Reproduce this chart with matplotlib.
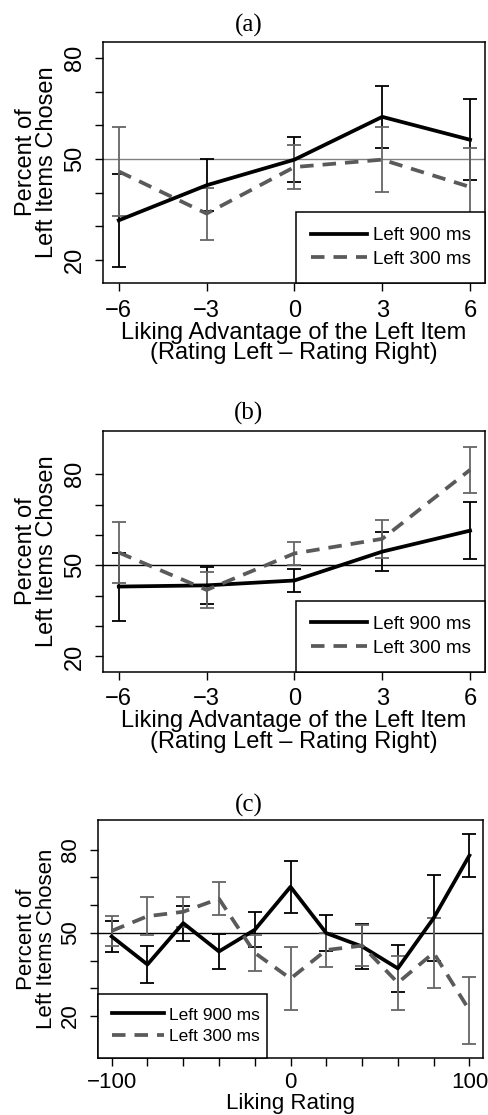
import matplotlib
matplotlib.use('Agg')
import matplotlib.pyplot as plt

plt.rcParams['font.family'] = ['Liberation Sans', 'DejaVu Sans']

# panel (a): liking advantage, left item shown 900 / 300 ms
adv = [-6, -3, 0, 3, 6]
a_900 = [31.8, 42.2, 49.8, 62.5, 55.7]
a_900_err = [13.8, 7.7, 6.7, 9.1, 12.0]
a_300 = [46.3, 33.8, 47.6, 49.8, 41.7]
a_300_err = [13.3, 7.7, 6.5, 9.7, 11.7]

# panel (b)
b_900 = [43.0, 43.4, 45.0, 54.5, 61.4]
b_900_err = [11.2, 6.0, 3.7, 6.4, 9.3]
b_300 = [54.2, 41.9, 53.9, 58.7, 81.4]
b_300_err = [9.9, 6.0, 3.8, 6.3, 7.6]

# panel (c): liking rating
rating = [-100, -80, -60, -40, -20, 0, 20, 40, 60, 80, 100]
c_900 = [48.7, 38.6, 53.5, 43.3, 51.1, 66.6, 49.9, 45.1, 37.2, 55.3, 77.9]
c_900_err = [5.7, 6.5, 6.3, 6.3, 6.3, 9.3, 6.6, 8.1, 8.6, 15.6, 7.6]
c_300 = [50.7, 56.0, 57.6, 62.3, 42.8, 33.5, 43.8, 45.4, 32.0, 42.8, 22.1]
c_300_err = [5.5, 6.8, 5.5, 6.0, 6.4, 11.3, 6.2, 7.5, 9.7, 12.7, 12.1]

y_ticks = [20, 30, 40, 50, 60, 70, 80]
y_labels = ['20', '', '', '50', '', '', '80']

GRAY = '#5a5a5a'
GRAY_ERR = '#666666'


def panel(ax, x, y9, e9, y3, e3, ylim, xlim, hcol, leg_box, xlabel, xticks, xticklabels,
		ylab_x, fs=17, leg_fs=13.5, xpad=6):
	ax.axhline(50, color=hcol, linewidth=1.0, zorder=1)
	ax.errorbar(x, y9, yerr=e9, fmt='none', ecolor='black', elinewidth=1.3, capsize=4.7, capthick=1.3, zorder=2)
	ax.errorbar(x, y3, yerr=e3, fmt='none', ecolor=GRAY_ERR, elinewidth=1.3, capsize=4.7, capthick=1.3, zorder=2)
	ax.plot(x, y9, color='black', linewidth=2.7, label='Left 900 ms', zorder=3, solid_joinstyle='round')
	ax.plot(x, y3, color=GRAY, linewidth=2.7, linestyle=(0, (3.6, 2.4)), label='Left 300 ms', zorder=3)
	ax.set_ylim(ylim)
	ax.set_xlim(xlim)
	ax.set_yticks(y_ticks)
	ax.set_yticklabels(y_labels, rotation=90, va='center', fontsize=fs)
	ax.set_xticks(xticks)
	ax.set_xticklabels(xticklabels, fontsize=fs)
	ax.tick_params(direction='out', length=6, width=1, pad=6)
	ax.tick_params(axis='x', pad=xpad)
	for s in ax.spines.values():
		s.set_linewidth(1.1)
	ax.set_ylabel('Percent of\nLeft Items Chosen', fontsize=fs, linespacing=0.95)
	ax.yaxis.set_label_coords(ylab_x, 0.5)
	ax.set_xlabel(xlabel, fontsize=fs, linespacing=0.9, labelpad=0)
	leg = ax.legend(loc='lower left', bbox_to_anchor=leg_box, mode='expand', borderaxespad=0,
		fontsize=leg_fs, frameon=True, fancybox=False, handlelength=3.0, handletextpad=0.3,
		labelspacing=0.35, borderpad=0.8)
	leg.get_frame().set_edgecolor('black')
	leg.get_frame().set_linewidth(1.1)
	leg.get_frame().set_alpha(1)


fig = plt.figure(figsize=(4.89, 11.15), dpi=100)
ax1 = fig.add_axes([0.2106, 0.7462, 0.7812, 0.2161])
ax2 = fig.add_axes([0.2106, 0.3976, 0.7812, 0.2159])
ax3 = fig.add_axes([0.1998, 0.0514, 0.7886, 0.2132])

xl_adv = 'Liking Advantage of the Left Item\n(Rating Left \u2013 Rating Right)'
adv_lbl = ['\u22126', '\u22123', '0', '3', '6']
panel(ax1, adv, a_900, a_900_err, a_300, a_300_err, (13.2, 84.7), (-6.54, 6.51), '#808080',
	(0.505, 0, 0.495, 0.3), xl_adv, adv, adv_lbl, -0.118)
panel(ax2, adv, b_900, b_900_err, b_300, b_300_err, (15.0, 94.2), (-6.54, 6.51), 'black',
	(0.505, 0, 0.495, 0.3), xl_adv, adv, adv_lbl, -0.118)
r_lbl = ['\u2212100', '', '', '', '', '0', '', '', '', '', '100']
panel(ax3, rating, c_900, c_900_err, c_300, c_300_err, (5.0, 90.7), (-107.8, 107.8), 'black',
	(0, 0, 0.44, 0.3), 'Liking Rating', rating, r_lbl, -0.105, fs=16, leg_fs=12.5, xpad=4)

for lab, yy in [('(a)', 1115 - 25), ('(b)', 1115 - 413), ('(c)', 1115 - 805)]:
	fig.text(0.509, yy / 1115, lab, ha='center', va='center', fontsize=18, family='Liberation Serif')

fig.savefig('out.png', dpi=100)
